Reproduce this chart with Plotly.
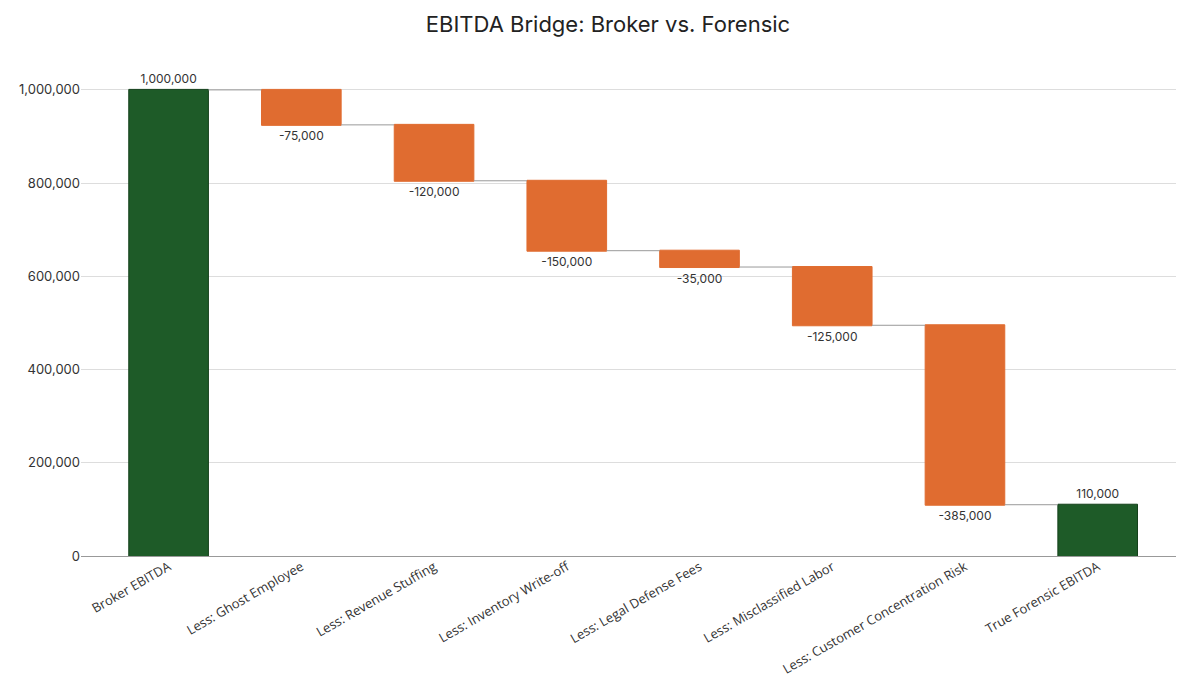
import plotly.graph_objects as go

# Bridge steps
categories = [
    "Broker EBITDA",
    "Less: Ghost Employee",
    "Less: Revenue Stuffing",
    "Less: Inventory Write-off",
    "Less: Legal Defense Fees",
    "Less: Misclassified Labor",
    "Less: Customer Concentration Risk",
    "True Forensic EBITDA",
]
values = [1000000, -75000, -120000, -150000, -35000, -125000, -385000, 110000]
measures = ["absolute"] + ["relative"] * 6 + ["total"]
labels = [f"{v:,}" for v in values]

green = "#1e5b28"
orange = "#e06c30"

fig = go.Figure(go.Waterfall(
    x=categories,
    y=values,
    measure=measures,
    text=labels,
    textposition="outside",
    textfont=dict(family="Inter", size=12, color="#333333"),
    width=0.6,
    increasing=dict(marker=dict(color=green)),
    decreasing=dict(marker=dict(color=orange, line=dict(color=orange, width=1))),
    totals=dict(marker=dict(color=green, line=dict(color="#14401b", width=1))),
    connector=dict(line=dict(color="#999999", width=1)),
    cliponaxis=False,
    showlegend=False,
))

fig.update_layout(
    title=dict(text="EBITDA Bridge: Broker vs. Forensic", x=0.5, y=0.976,
               yanchor="middle", xanchor="center",
               font=dict(family="Inter", size=22, color="#222222")),
    width=1200, height=686,
    margin=dict(l=73, r=32, t=53, b=138),
    plot_bgcolor="white",
    paper_bgcolor="white",
    font=dict(family="Open Sans", size=13, color="#333333"),
)
fig.update_xaxes(tickangle=-30, range=[-0.66, 7.59], showgrid=False,
                 tickfont=dict(size=13))
fig.update_yaxes(range=[0, 1062000], tickformat=",", dtick=200000,
                 gridcolor="#dddddd", zeroline=True, zerolinecolor="#999999",
                 zerolinewidth=1, tickfont=dict(family="Inter", size=13), ticks="",
                 ticklen=0)

fig.write_html("out.html")
